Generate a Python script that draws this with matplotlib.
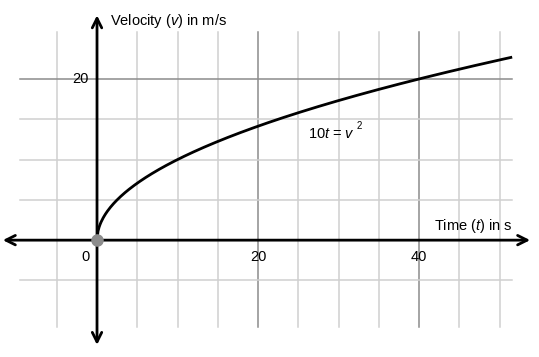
import numpy as np
import matplotlib
matplotlib.use('Agg')
import matplotlib.pyplot as plt
from matplotlib import font_manager

# data
grid_t = [-5, 5, 10, 15, 20, 25, 30, 35, 40, 45, 50]
grid_v = [-5, 5, 10, 15, 20]
dark_t = [20, 40]
dark_v = [20]
xtick_labels = [0, 20, 40]
ytick_labels = [20]
t_end = 51.4
curve_label = '10$t$ = $v$'
xlabel = 'Time ($t$) in s'
ylabel = 'Velocity ($v$) in m/s'

# the curve is the relation written on the chart: 10 t = v^2
t = np.linspace(0, t_end, 400)
v = np.sqrt(10 * t)

names = [f.name for f in font_manager.fontManager.ttflist]
fam = 'Liberation Sans Narrow' if 'Liberation Sans Narrow' in names else 'Liberation Sans'
plt.rcParams['font.family'] = [fam, 'DejaVu Sans']
plt.rcParams['mathtext.fontset'] = 'custom'
plt.rcParams['mathtext.rm'] = fam
plt.rcParams['mathtext.it'] = fam + ':italic'

fig = plt.figure(figsize=(5.39, 3.57), dpi=100)
ax = fig.add_axes([0, 0, 1, 1])
ax.set_xlim(-12.05, 54.9)
ax.set_ylim(-14.5, 29.8)
ax.axis('off')

# grid
for g in grid_t:
  c = '#8c8c8c' if g in dark_t else '#d0d0d0'
  ax.plot([g, g], [-10.8, 25.8], color=c, lw=1.1, zorder=1)
for g in grid_v:
  c = '#8c8c8c' if g in dark_v else '#d0d0d0'
  ax.plot([-9.6, 51.6], [g, g], color=c, lw=1.1, zorder=1)

# axes with open arrow heads
ax.annotate('', xy=(53.8, 0), xytext=(-11.7, 0),
            arrowprops=dict(arrowstyle='<->', lw=2, color='black',
                            mutation_scale=17, shrinkA=0, shrinkB=0), zorder=3)
ax.annotate('', xy=(0, 27.9), xytext=(0, -13.0),
            arrowprops=dict(arrowstyle='<->', lw=2, color='black',
                            mutation_scale=17, shrinkA=0, shrinkB=0), zorder=3)

# curve
ax.plot(t, v, color='black', lw=2, zorder=4)
ax.plot([0], [0], 'o', color='#8c8c8c', ms=8, zorder=5)

# tick labels
for x in xtick_labels:
  if x == 0:
    ax.text(-1.4, -2.1, '0', ha='center', va='center', fontsize=10.5)
  else:
    ax.text(x, -2.1, str(x), ha='center', va='center', fontsize=10.5)
for y in ytick_labels:
  ax.text(-1.0, y, str(y), ha='right', va='center', fontsize=10.5)

ax.text(1.6, 27.2, ylabel, ha='left', va='center', fontsize=10.5)
ax.text(41.8, 1.75, xlabel, ha='left', va='center', fontsize=10.5)
ax.text(26.2, 13.2, curve_label, ha='left', va='center', fontsize=10.5)
ax.text(32.3, 14.2, '2', ha='left', va='center', fontsize=7)

fig.savefig('out.png', dpi=100)
